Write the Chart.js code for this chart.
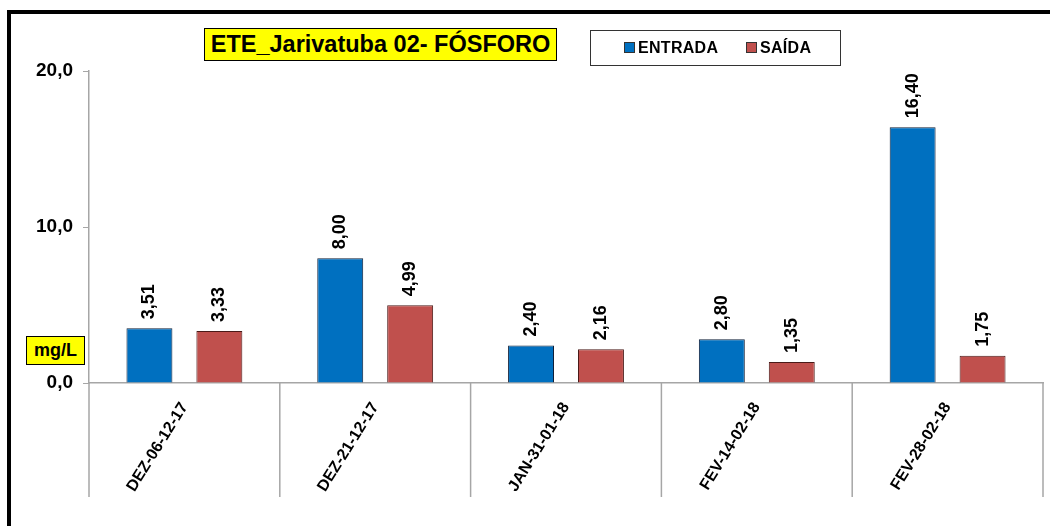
<!DOCTYPE html>
<html>
<head>
<meta charset="utf-8">
<script src="https://cdn.jsdelivr.net/npm/chart.js@4/dist/chart.umd.min.js"></script>
<style>
  html, body { margin: 0; padding: 0; background: #fff; overflow: hidden; }
  #wrap { position: relative; width: 1050px; height: 526px; font-family: "Liberation Sans", Arial, sans-serif; }
  #frame { position: absolute; left: 7px; top: 10px; width: 1100px; height: 600px;
    border-top: 4px solid #000; border-left: 4px solid #000; }
  #chart { position: absolute; left: 0; top: 0; }
  .title { position: absolute; left: 204px; top: 28px; width: 351px; height: 31px; background: #ffff00;
    border: 1px solid #000; font-weight: bold; font-size: 23.5px; line-height: 31px; text-align: center; }
  .legend { position: absolute; left: 590px; top: 30px; width: 249px; height: 34px; background: #fff;
    border: 1px solid #333; font-weight: bold; font-size: 16px; line-height: 34px; letter-spacing: 0.3px; }
  .legend span { position: absolute; top: 0; }
  .legend i { display: inline-block; width: 9px; height: 9px; margin-right: 3px; border: 1px solid #333; }
  .unit { position: absolute; left: 26px; top: 336px; width: 57px; height: 27px; background: #ffff00;
    border: 1px solid #000; font-weight: bold; font-size: 18px; line-height: 27px; text-align: center; }
</style>
</head>
<body>
<div id="wrap">
  <div id="frame"></div>
  <canvas id="chart" width="1050" height="526"></canvas>
  <div class="title">ETE_Jarivatuba 02- FÓSFORO</div>
  <div class="legend">
    <span style="left:33px"><i style="background:#0070C0"></i>ENTRADA</span>
    <span style="left:155px"><i style="background:#C0504D"></i>SAÍDA</span>
  </div>
  <div class="unit">mg/L</div>
</div>
<script>
const categories = ["DEZ-06-12-17", "DEZ-21-12-17", "JAN-31-01-18", "FEV-14-02-18", "FEV-28-02-18"]
const entrada = [3.51, 8.0, 2.4, 2.8, 16.4]
const saida = [3.33, 4.99, 2.16, 1.35, 1.75]
const yTicks = [0, 10, 20]

const fmt = (v, d) => v.toFixed(d).replace(".", ",")

// value labels, rotated, above each bar
const valueLabels = {
  id: "valueLabels",
  afterDatasetsDraw(chart) {
    const ctx = chart.ctx
    ctx.save()
    ctx.font = "bold 18px 'Liberation Sans', Arial"
    ctx.fillStyle = "#000"
    ctx.textAlign = "left"
    ctx.textBaseline = "middle"
    chart.data.datasets.forEach((ds, di) => {
      chart.getDatasetMeta(di).data.forEach((bar, i) => {
        ctx.save()
        ctx.translate(bar.x, bar.y - 9)
        ctx.rotate(-Math.PI / 2)
        ctx.fillText(fmt(ds.data[i], 2), 0, 0)
        ctx.restore()
      })
    })
    ctx.restore()
  },
}

// vertical separators between categories below the axis
const dividers = {
  id: "dividers",
  afterDraw(chart) {
    const x = chart.scales.x
    const ctx = chart.ctx
    const n = categories.length
    const pts = []
    for (let i = 0; i <= n; i++) {
      if (i === 0) pts.push(x.left)
      else if (i === n) pts.push(x.right)
      else pts.push((x.getPixelForValue(i - 1) + x.getPixelForValue(i)) / 2)
    }
    ctx.save()
    ctx.strokeStyle = "#a6a6a6"
    ctx.lineWidth = 1.5
    for (const px of pts) {
      ctx.beginPath()
      ctx.moveTo(px, chart.chartArea.bottom)
      ctx.lineTo(px, 497)
      ctx.stroke()
    }
    ctx.restore()
  },
}

new Chart(document.getElementById("chart").getContext("2d"), {
  type: "bar",
  data: {
    labels: categories,
    datasets: [
      {
        label: "ENTRADA",
        data: entrada,
        backgroundColor: "#0070C0",
        borderColor: "#10203a",
        borderWidth: 1,
        categoryPercentage: 0.733,
        barPercentage: 0.657,
      },
      {
        label: "SAÍDA",
        data: saida,
        backgroundColor: "#C0504D",
        borderColor: "#4a1a18",
        borderWidth: 1,
        categoryPercentage: 0.733,
        barPercentage: 0.657,
      },
    ],
  },
  options: {
    responsive: false,
    animation: false,
    layout: {padding: {top: 71, right: 7, left: 0, bottom: 0}},
    plugins: {legend: {display: false}, title: {display: false}, tooltip: {enabled: false}},
    scales: {
      x: {
        grid: {display: false},
        border: {color: "#a6a6a6", width: 1.5},
        ticks: {
          minRotation: 58,
          maxRotation: 58,
          padding: 8,
          color: "#000",
          font: {family: "'Liberation Sans', Arial", size: 16, weight: "bold"},
        },
        afterFit: (s) => { s.height = 143 },
      },
      y: {
        min: 0,
        max: 20,
        afterBuildTicks: (s) => { s.ticks = yTicks.map((v) => ({value: v})) },
        grid: {drawOnChartArea: false, tickLength: 6, color: "#a6a6a6"},
        border: {color: "#a6a6a6", width: 1.5},
        ticks: {
          padding: 10,
          color: "#000",
          font: {family: "'Liberation Sans', Arial", size: 19, weight: "bold"},
          callback: (v) => fmt(v, 1),
        },
        afterFit: (s) => { s.width = 89 },
      },
    },
  },
  plugins: [valueLabels, dividers],
})
</script>
</body>
</html>
